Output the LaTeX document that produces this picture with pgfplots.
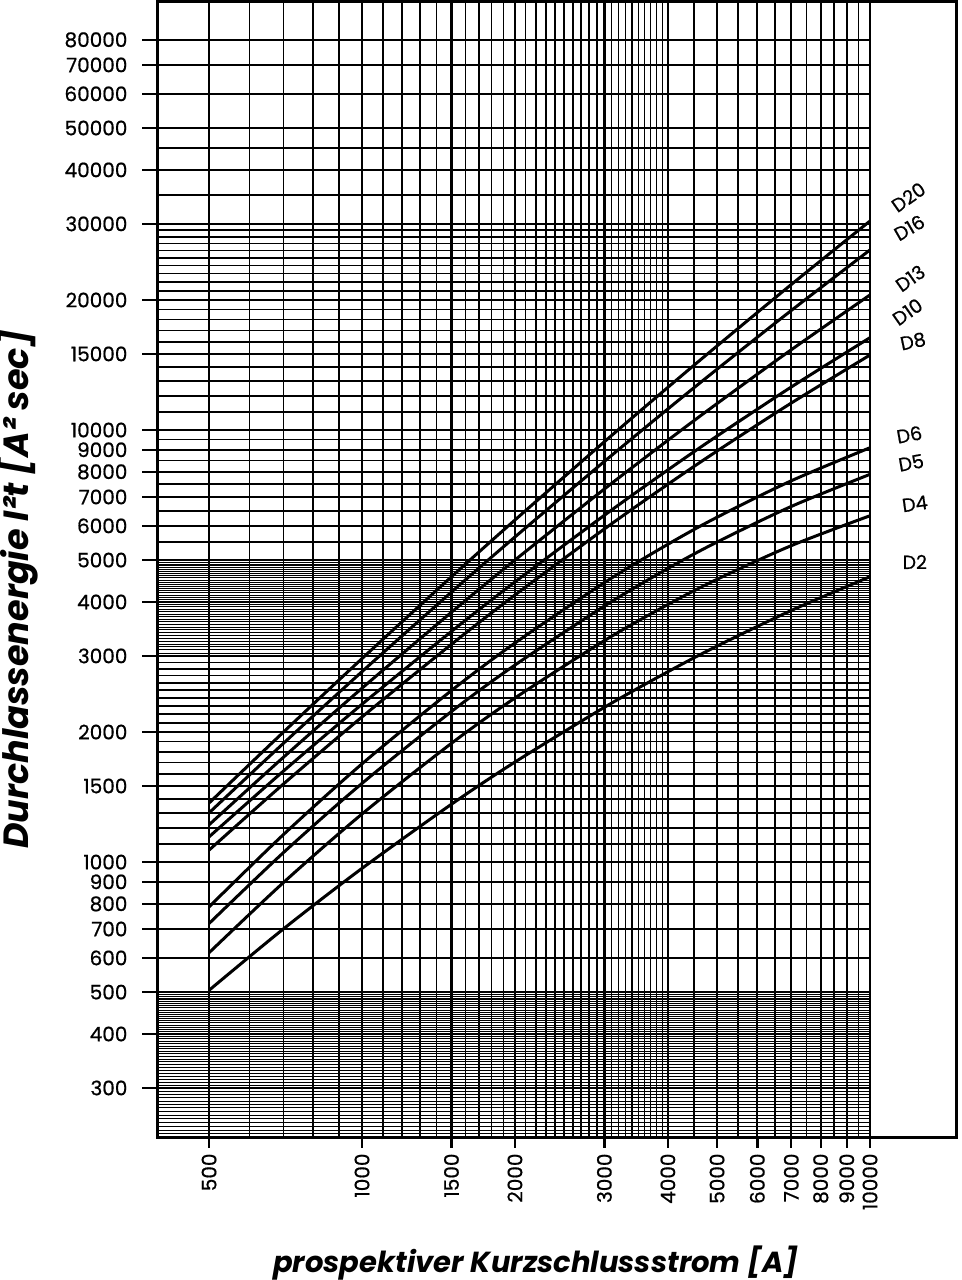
\documentclass[border=0pt]{standalone}
\usepackage{fontspec}
\setmainfont{Poppins}
\newfontfamily\medfont{Poppins}[FakeBold=0.7]
\usepackage{pgfplots}
\pgfplotsset{compat=1.18}
\tikzset{curve/.style={black, solid, line width=1.5pt, smooth, mark=none}}
\begin{document}
\begin{tikzpicture}
% dense thin grid lines (below 500 and 3000-5000)
\begin{axis}[at={(0,0)}, anchor=south west, scale only axis,
  width=356.5pt, height=568pt, xmode=log, ymode=log,
  xmin=394.9, xmax=10000, ymin=229.8, ymax=97880,
  axis line style={draw=none}, major tick length=0pt, minor tick length=0pt,
  xticklabels={}, yticklabels={},
  xtick={100},
  ytick={230,235,240,245,250,255,260,265,270,275,280,285,290,295,305,310,315,320,325,330,335,340,345,350,355,360,365,370,375,380,385,390,395,405,410,415,420,425,430,435,440,445,450,455,460,465,470,475,480,485,490,495,3050,3100,3150,3200,3250,3300,3350,3400,3450,3500,3550,3600,3650,3700,3750,3800,3850,3900,3950,4050,4100,4150,4200,4250,4300,4350,4400,4450,4500,4550,4600,4650,4700,4750,4800,4850,4900,4950},
  ymajorgrids, major grid style={black, line width=0.3pt},
]
\end{axis}
% main grid (stops at 10000 A)
\begin{axis}[at={(0,0)}, anchor=south west, scale only axis,
  width=356.5pt, height=568pt, xmode=log, ymode=log,
  xmin=394.9, xmax=10000, ymin=229.8, ymax=97880,
  axis line style={draw=none}, major tick length=0pt, minor tick length=0pt,
  xticklabels={}, yticklabels={},
  xtick={500,1000,1500,2000,3000,4000,5000,6000,7000,8000,9000,10000},
  minor xtick={600,700,800,900,1100,1200,1300,1400,1600,1700,1800,1900,2100,2200,2300,2400,2500,2600,2700,2800,2900,3100,3200,3300,3400,3500,3600,3700,3800,3900,4500,5500,6500,7500,8500,9500},
  ytick={300,400,500,600,700,800,900,1000,1500,2000,3000,4000,5000,6000,7000,8000,9000,10000,15000,20000,30000,40000,50000,60000,70000,80000},
  minor ytick={1100,1200,1300,1400,1600,1700,1800,1900,2100,2200,2300,2400,2500,2600,2700,2800,2900,5500,6500,7500,8500,9500,11000,12000,13000,14000,16000,17000,18000,19000,21000,22000,23000,24000,25000,26000,27000,28000,29000,35000,45000},
  xmajorgrids, xminorgrids, ymajorgrids, yminorgrids,
  major grid style={black, line width=1.15pt},
  minor grid style={black, line width=0.75pt},
]
\end{axis}
% frame, ticks, curves
\begin{axis}[name=main, at={(0,0)}, anchor=south west, scale only axis,
  width=399.5pt, height=568pt, xmode=log, ymode=log,
  xmin=394.9, xmax=14769, ymin=229.8, ymax=97880,
  axis line style={black, line width=1.5pt},
  tick align=outside, xtick pos=left, ytick pos=left,
  minor tick length=0pt,
  tick style={black, line width=1.2pt},
  xtick style={/pgfplots/major tick length=5pt},
  ytick style={/pgfplots/major tick length=7.5pt},
  xtick={500,1000,1500,2000,3000,4000,5000,6000,7000,8000,9000,10000},
  xticklabels={500,1000,1500,2000,3000,4000,5000,6000,7000,8000,9000,10000},
  ytick={300,400,500,600,700,800,900,1000,1500,2000,3000,4000,5000,6000,7000,8000,9000,10000,15000,20000,30000,40000,50000,60000,70000,80000},
  yticklabels={300,400,500,600,700,800,900,1000,1500,2000,3000,4000,5000,6000,7000,8000,9000,10000,15000,20000,30000,40000,50000,60000,70000,80000},
  ticklabel style={font=\medfont\fontsize{10}{12}\selectfont},
  xticklabel style={rotate=90, anchor=east},
  yticklabel style={xshift=-7pt},
  xlabel={prospektiver Kurzschlussstrom [A]},
  xlabel style={at={(axis description cs:0.474,-0.110)}, anchor=center, font=\bfseries\itshape\fontsize{14.5}{17}\selectfont},
  ylabel={Durchlassenergie I²t [A² sec]},
  ylabel style={at={(axis description cs:-0.1752,0.483)}, anchor=center, font=\bfseries\itshape\fontsize{17.5}{20}\selectfont},
]
% D20
\addplot[curve] coordinates {(500,1370) (700,1998) (1000,2958) (1500,4575) (2000,6190) (3000,9394) (4000,12552) (5000,15655) (7000,21716) (10000,30460)};
% D16
\addplot[curve] coordinates {(500,1300) (700,1882) (1000,2759) (1500,4216) (2000,5654) (3000,8459) (4000,11186) (5000,13830) (7000,18911) (10000,26110)};
% D13
\addplot[curve] coordinates {(500,1220) (700,1747) (1000,2526) (1500,3787) (2000,5000) (3000,7302) (4000,9467) (5000,11515) (7000,15340) (10000,20544)};
% D10
\addplot[curve] coordinates {(500,1144) (700,1623) (1000,2319) (1500,3419) (2000,4450) (3000,6349) (4000,8084) (5000,9685) (7000,12577) (10000,16360)};
% D8
\addplot[curve] coordinates {(500,1066) (700,1515) (1000,2167) (1500,3192) (2000,4150) (3000,5902) (4000,7488) (5000,8941) (7000,11546) (10000,14914)};
% D6
\addplot[curve] coordinates {(500,788) (700,1157) (1000,1688) (1500,2495) (2000,3213) (3000,4434) (4000,5438) (5000,6283) (7000,7630) (10000,9100)};
% D5
\addplot[curve] coordinates {(500,721) (700,1051) (1000,1521) (1500,2231) (2000,2857) (3000,3914) (4000,4781) (5000,5505) (7000,6655) (10000,7897)};
% D4
\addplot[curve] coordinates {(500,617) (700,896) (1000,1292) (1500,1883) (2000,2397) (3000,3255) (4000,3945) (5000,4513) (7000,5400) (10000,6333)};
% D2
\addplot[curve] coordinates {(500,505) (700,700) (1000,967) (1500,1361) (2000,1704) (3000,2281) (4000,2757) (5000,3162) (7000,3823) (10000,4576)};
\begin{scope}[every node/.style={font=\medfont\fontsize{9.5}{11}\selectfont, inner sep=0pt}]
\node[rotate=35] at (axis cs:11900,34600) {D20};
\node[rotate=30] at (axis cs:11950,29400) {D16};
\node[rotate=35] at (axis cs:12000,22450) {D13};
\node[rotate=35] at (axis cs:11850,18780) {D10};
\node[rotate=12] at (axis cs:12150,16050) {D8};
\node[rotate=10] at (axis cs:11950,9760) {D6};
\node[rotate=10] at (axis cs:12050,8400) {D5};
\node[rotate=8] at (axis cs:12250,6750) {D4};
\node at (axis cs:12250,4950) {D2};
\end{scope}
\end{axis}
\pgfresetboundingbox
\path (main.south west) ++(-78.5pt,-71pt) rectangle ++(481pt,640pt);
\end{tikzpicture}
\end{document}
